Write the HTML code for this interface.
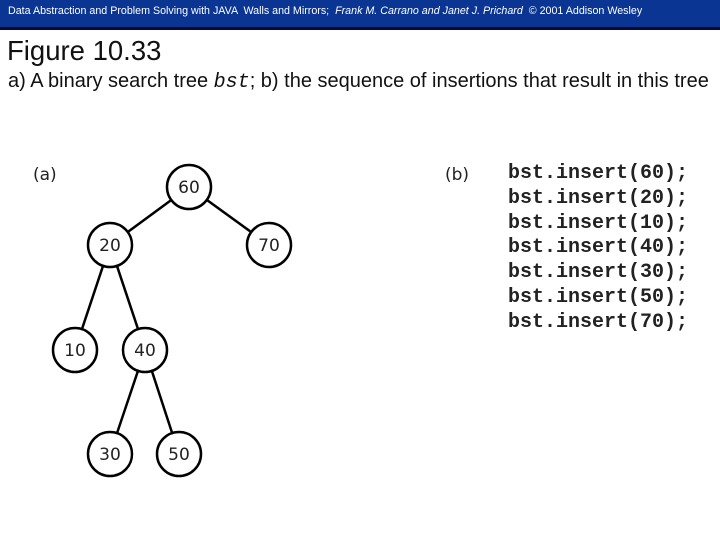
<!DOCTYPE html>
<html><head><style>
body{margin:0;width:720px;height:540px;background:#fff;position:relative;overflow:hidden;font-family:"Liberation Sans",sans-serif}
.bar{position:absolute;left:0;top:0;width:720px;height:27px;background:#0a3593;border-bottom:3px solid #0a0a30}
.bar span{position:absolute;left:8px;top:5px;color:#fff;font-size:10.7px;white-space:nowrap}
.t{position:absolute;left:7px;top:35px;font-size:27.5px;color:#111}
.s{position:absolute;left:8px;top:70px;font-size:20px;color:#111;white-space:nowrap}
.code{position:absolute;left:508px;top:162px;font-family:"Liberation Mono",monospace;font-weight:bold;font-size:20px;line-height:24.8px;color:#222}
</style></head><body>
<div class="bar"><span>Data Abstraction and Problem Solving with JAVA &nbsp;Walls and Mirrors; &nbsp;<i>Frank M. Carrano and Janet J. Prichard</i> &nbsp;© 2001 Addison Wesley</span></div>
<div class="t">Figure 10.33</div>
<div class="s">a) A binary search tree <i style="font-family:'Liberation Mono',monospace">bst</i>; b) the sequence of insertions that result in this tree</div>
<svg width="720" height="540" style="position:absolute;left:0;top:0" font-family="DejaVu Sans, sans-serif" font-size="17" fill="#222">
<text x="33" y="180">(a)</text>
<text x="445" y="180">(b)</text>
<g stroke="#000" stroke-width="2.5">
<line x1="189" y1="187" x2="110" y2="245"/><line x1="189" y1="187" x2="269" y2="245"/>
<line x1="110" y1="245" x2="75" y2="350"/><line x1="110" y1="245" x2="145" y2="350"/>
<line x1="145" y1="350" x2="110" y2="454"/><line x1="145" y1="350" x2="179" y2="454"/>
</g>
<g stroke="#000" stroke-width="2.5" fill="#fff">
<circle cx="189" cy="187" r="22"/><circle cx="110" cy="245" r="22"/><circle cx="269" cy="245" r="22"/>
<circle cx="75" cy="350" r="22"/><circle cx="145" cy="350" r="22"/><circle cx="110" cy="454" r="22"/><circle cx="179" cy="454" r="22"/>
</g>
<g text-anchor="middle">
<text x="189" y="193">60</text><text x="110" y="251">20</text><text x="269" y="251">70</text>
<text x="75" y="356">10</text><text x="145" y="356">40</text><text x="110" y="460">30</text><text x="179" y="460">50</text>
</g>
</svg>
<div class="code">bst.insert(60);<br>bst.insert(20);<br>bst.insert(10);<br>bst.insert(40);<br>bst.insert(30);<br>bst.insert(50);<br>bst.insert(70);</div>
</body></html>
